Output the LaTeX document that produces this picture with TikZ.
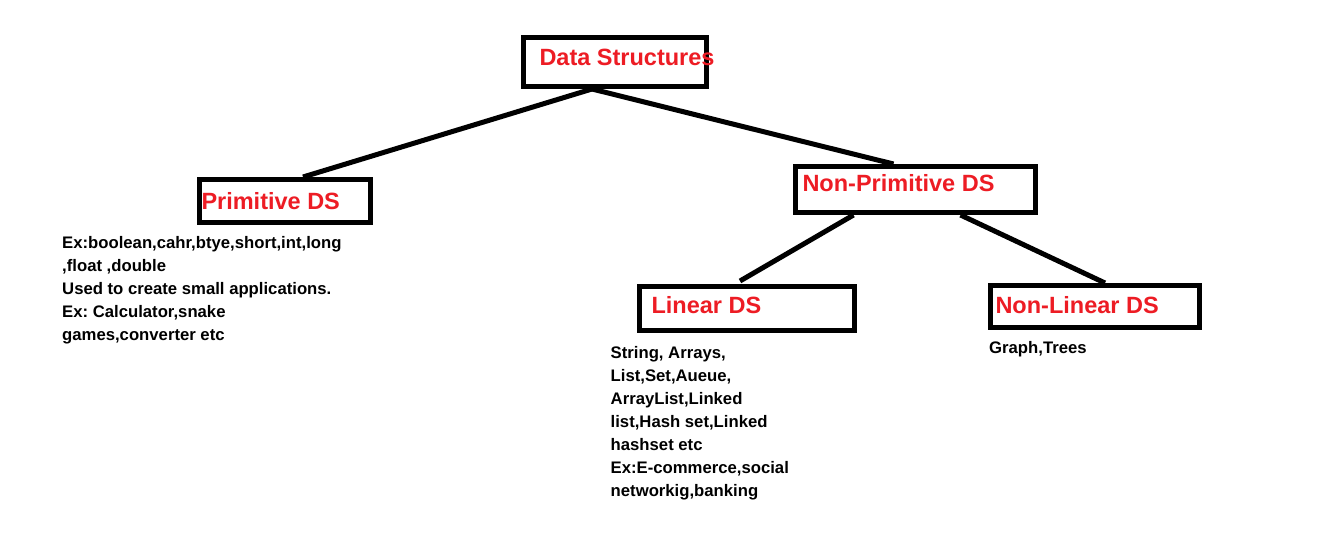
\documentclass[tikz,border=0pt]{standalone}
\usepackage{fontspec}
\setmainfont{Liberation Sans}
\usepackage{xcolor}
\usepackage{tikz}
\usetikzlibrary{positioning}
\definecolor{dsred}{HTML}{ED1C24}
\frenchspacing

\begin{document}
\begin{tikzpicture}[
        x=1pt, y=-1pt,
        box/.style = {draw=black, rectangle, line width=5pt, fill=white, inner sep=0pt},
        head/.style = {text=dsred, font=\fontsize{23.5pt}{27pt}\selectfont\bfseries, anchor=west, inner sep=0pt},
        note/.style = {text=black, font=\fontsize{16.7pt}{23pt}\selectfont\bfseries, align=left, anchor=north west, inner sep=0pt},
        link/.style = {draw=black, line width=5pt}
    ]
        \useasboundingbox (0,0) rectangle (1327,538);

        % Root
        \node (ds) [box, minimum width=183pt, minimum height=49pt,
            label={[head, xshift=18.3pt, yshift=5pt]west:Data Structures}] at (615,62) {};

        % First level
        \node (prim) [box, minimum width=171pt, minimum height=43pt, below=88pt of ds, xshift=-330pt,
            label={[head, xshift=4.3pt]west:Primitive DS}] {};
        \node (nonprim) [box, minimum width=240pt, minimum height=46pt, below=75pt of ds, xshift=300.5pt,
            label={[head, xshift=9.3pt, yshift=6pt]west:Non-Primitive DS}] {};

        % Second level
        \node (linear) [box, minimum width=215pt, minimum height=44pt, below=69pt of nonprim, xshift=-168.5pt,
            label={[head, xshift=14.3pt, yshift=3.5pt]west:Linear DS}] {};
        \node (nonlinear) [box, minimum width=209pt, minimum height=42pt, below=68pt of nonprim, xshift=179.5pt,
            label={[head, xshift=7.3pt, yshift=1pt]west:Non-Linear DS}] {};

        % Notes
        \node (primNote) [note] at (62,236) {Ex:boolean,cahr,btye,short,int,long\\,float ,double\\Used to create small applications.\\Ex: Calculator,snake\\games,converter etc};
        \node (linearNote) [note] at (610.5,346) {String, Arrays,\\List,Set,Aueue,\\ArrayList,Linked\\list,Hash set,Linked\\hashset etc\\Ex:E-commerce,social\\networkig,banking};
        \node (nonlinearNote) [note] at (989,341) {Graph,Trees};

        % Lines
        \draw [link] ([xshift=-23pt]ds.south) -- ([xshift=18pt]prim.north);
        \draw [link] ([xshift=-23pt]ds.south) -- ([xshift=-22pt]nonprim.north);
        \draw [link] ([xshift=-62pt]nonprim.south) -- ([xshift=-7pt, yshift=3pt]linear.north);
        \draw [link] ([xshift=45pt]nonprim.south) -- ([xshift=10pt]nonlinear.north);

    \end{tikzpicture}
\end{document}
